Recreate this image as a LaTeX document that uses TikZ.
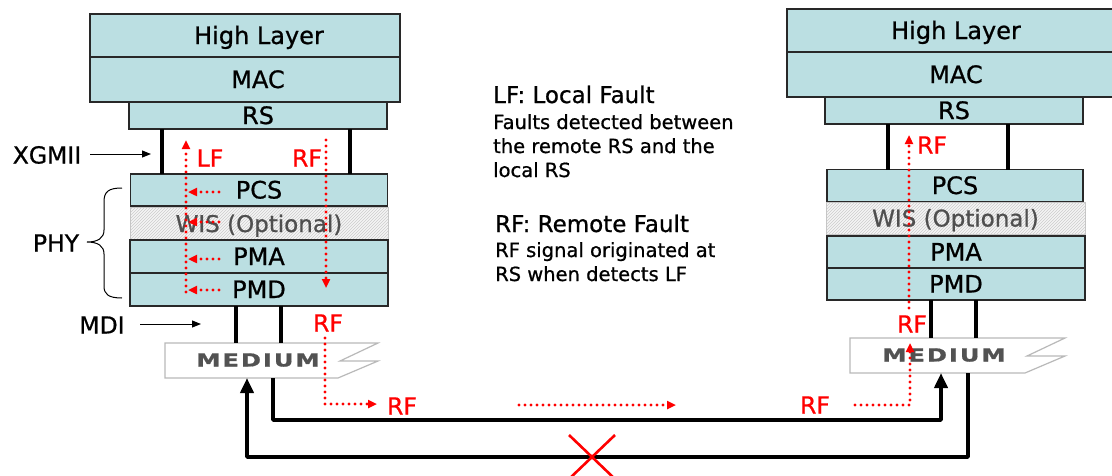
\documentclass[tikz,border=0pt]{standalone}
\usepackage{fontspec}
\setmainfont{DejaVu Sans}[FakeBold=0.8]
\usetikzlibrary{arrows.meta,patterns,calc}
\definecolor{boxc}{RGB}{187,223,226}
\definecolor{edgec}{RGB}{40,40,40}
\definecolor{fred}{RGB}{255,0,0}
\newcommand{\medword}{M\hspace{1.4pt}E\hspace{1.4pt}D\hspace{1.4pt}I\hspace{1.4pt}U\hspace{1.4pt}M}
\begin{document}
\begin{tikzpicture}[x=1pt,y=-1pt,
  layer/.style={draw=edgec, fill=boxc, line width=1.3pt, inner sep=0pt, outer sep=0pt,
    font=\fontsize{24}{28}\selectfont, text height=17pt, text depth=0pt},
  boxtext/.style={inner sep=0pt, font=\fontsize{24}{28}\selectfont, text height=17pt, text depth=0pt},
  wisbox/.style={draw=gray!45, line width=0.8pt, preaction={fill=gray!8},
    pattern=north east lines, pattern color=gray!40, inner sep=0pt, outer sep=0pt,
    text=gray!62!black, font=\fontsize{23}{28}\selectfont, text height=17pt, text depth=0pt},
  wire/.style={line width=3.5pt, black},
  bigwire/.style={line width=3.8pt, black, line join=round, -{Triangle[length=15pt,width=13pt]}},
  fault/.style={fred, line width=3.4pt, dash pattern=on 0pt off 6pt, line cap=round},
  ftip/.style={-{Triangle[length=9pt,width=8pt]}},
  flabel/.style={text=fred, font=\fontsize{23.5}{28}\selectfont, inner sep=0pt, text height=17pt, text depth=0pt},
  lbl/.style={font=\fontsize{23.5}{28}\selectfont, inner sep=0pt, text height=17pt, text depth=0pt},
  ptr/.style={line width=1pt, black, -{Triangle[length=9pt,width=7pt]}},
  medium/.style={draw=gray!55, line width=1.2pt, fill=white},
  medtext/.style={text=black!68, font=\fontsize{18}{20}\selectfont\bfseries, inner sep=0pt, text height=13pt, text depth=0pt},
  legtitle/.style={anchor=base west, inner sep=0pt, font=\fontsize{23}{26}\selectfont},
  legbody/.style={anchor=base west, inner sep=0pt, font=\fontsize{19.5}{24}\selectfont},
]
\useasboundingbox (0,0) rectangle (1112,475);
\fill[white] (0,0) rectangle (1112,475);

% ---------- left stack ----------
\node[layer, minimum width=310pt, minimum height=43pt] (hl) at (245,35.5) {};
\node[boxtext] (hlt) at (259,35.5) {High Layer};
\node[layer, minimum width=310pt, minimum height=45pt] (mac) at (245,79.5) {};
\node[boxtext] (mact) at (258,79.5) {MAC};
\node[layer, minimum width=258pt, minimum height=27pt] (rs) at (258,115.5) {RS};
\node[layer, minimum width=257pt, minimum height=32pt] (pcs) at (259,190) {PCS};
\node[wisbox, minimum width=258pt, minimum height=33pt] (wis) at (259,223.5) {WIS (Optional)};
\node[layer, minimum width=258pt, minimum height=33pt] (pma) at (259,256.5) {PMA};
\node[layer, minimum width=258pt, minimum height=33pt] (pmd) at (259,289.5) {PMD};

% ---------- right stack ----------
\node[layer, minimum width=338pt, minimum height=43pt] (hlr) at (956,30.5) {High Layer};
\node[layer, minimum width=338pt, minimum height=45pt] (macr) at (956,74.5) {MAC};
\node[layer, minimum width=258pt, minimum height=27pt] (rsr) at (954,110.5) {RS};
\node[layer, minimum width=256pt, minimum height=32pt] (pcsr) at (955,185.5) {PCS};
\node[wisbox, minimum width=259pt, minimum height=32pt] (wisr) at (955.5,218) {WIS (Optional)};
\node[layer, minimum width=258pt, minimum height=32pt] (pmar) at (956,252) {PMA};
\node[layer, minimum width=258pt, minimum height=32pt] (pmdr) at (956,284) {PMD};

% ---------- media ----------
\draw[medium] (165,343) -- (378,343) -- (340,361) -- (378,361) -- (338,378) -- (165,378) -- cycle;
\node[medtext] (med) at (258,360) {\scalebox{1.35}[1]{\medword}};
\draw[medium] (850,338) -- (1065,338) -- (1027,356) -- (1065,356) -- (1025,373) -- (850,373) -- cycle;
\node[medtext] (medr) at (944,355) {\scalebox{1.35}[1]{\medword}};

\coordinate (medtop) at (0,343);
\coordinate (medbot) at (0,378);
\coordinate (medrtop) at (0,338);
\coordinate (medrbot) at (0,373);

% ---------- wires ----------
\coordinate (xa) at (162,0);  \coordinate (xb) at (350,0);
\coordinate (ma) at (236,0);  \coordinate (mb) at (281,0);
\coordinate (xc) at (888,0);  \coordinate (xd) at (1008,0);
\coordinate (mc) at (931,0);  \coordinate (md) at (976,0);
\draw[wire] (xa |- rs.south) -- (xa |- pcs.north);
\draw[wire] (xb |- rs.south) -- (xb |- pcs.north);
\draw[wire] (ma |- pmd.south) -- (ma |- medtop);
\draw[wire] (mb |- pmd.south) -- (mb |- medtop);
\draw[wire] (xc |- rsr.south) -- (xc |- pcsr.north);
\draw[wire] (xd |- rsr.south) -- (xd |- pcsr.north);
\draw[wire] (mc |- pmdr.south) -- (mc |- medrtop);
\draw[wire] (md |- pmdr.south) -- (md |- medrtop);

% ---------- long links ----------
\coordinate (ta) at (273,0); \coordinate (tb) at (247,0);
\coordinate (tc) at (941,0); \coordinate (td) at (968,0);
\coordinate (ya) at (0,420); \coordinate (yb) at (0,457);
\draw[bigwire] (ta |- medbot) -- (ta |- ya) -- (tc |- ya) -- (tc |- medrbot);
\draw[bigwire] (td |- medrbot) -- (td |- yb) -- (tb |- yb) -- (tb |- medbot);
\coordinate (cx) at (592,457);
\draw[fred, line width=2.6pt] ($(cx)+(-23,-22)$) -- ($(cx)+(23,22)$);
\draw[fred, line width=2.6pt] ($(cx)+(23,-22)$) -- ($(cx)+(-23,22)$);

% ---------- fault signals ----------
\draw[fault, ftip] (186,292) -- (186,140);
\foreach \yy in {192,222,259,290}
  \draw[fault, ftip] (219,\yy) -- (188,\yy);
\draw[fault, ftip] (326,140) -- (326,288);
\draw[fault, ftip] (325,338) -- (325,404) -- (377,404);
\draw[fault, ftip] (519,405) -- (676,405);
\draw[fault, ftip] (855,405) -- (910,405) -- (910,343);
\draw[fault, ftip] (909,308) -- (909,135);

\node[flabel] (lf1) at (210,158) {LF};
\node[flabel] (rf1) at (307,158) {RF};
\node[flabel] (rf2) at (328,323) {RF};
\node[flabel] (rf3) at (402,406) {RF};
\node[flabel] (rf4) at (815,405) {RF};
\node[flabel] (rf5) at (932,145) {RF};
\node[flabel] (rf6) at (912,324) {RF};

% ---------- side labels ----------
\node[lbl] (xgmii) at (47,155) {XGMII};
\coordinate (xg1) at (90,154); \coordinate (xg2) at (151,154);
\draw[ptr] (xg1) -- (xg2);
\node[lbl] (phy) at (56,243) {PHY};
\draw[line width=1pt] (122,188) .. controls (108,188) and (104,192) .. (104,202) -- (104,230)
  .. controls (104,238) and (98,242) .. (87,242) .. controls (98,242) and (104,246) .. (104,254)
  -- (104,286) .. controls (104,294) and (108,298) .. (122,298);
\node[lbl] (mdi) at (102,325) {MDI};
\coordinate (md1) at (140,324); \coordinate (md2) at (201,324);
\draw[ptr] (md1) -- (md2);

% ---------- legend ----------
\node[legtitle] (lft) at (493,103) {LF: Local Fault};
\node[legbody] (lfb1) at (493,129) {Faults detected between};
\node[legbody] (lfb2) at (493,153) {the remote RS and the};
\node[legbody] (lfb3) at (493,177) {local RS};
\node[legtitle] (rft) at (495,232) {RF: Remote Fault};
\node[legbody] (rfb1) at (495,257) {RF signal originated at};
\node[legbody] (rfb2) at (495,281) {RS when detects LF};
\end{tikzpicture}
\end{document}
